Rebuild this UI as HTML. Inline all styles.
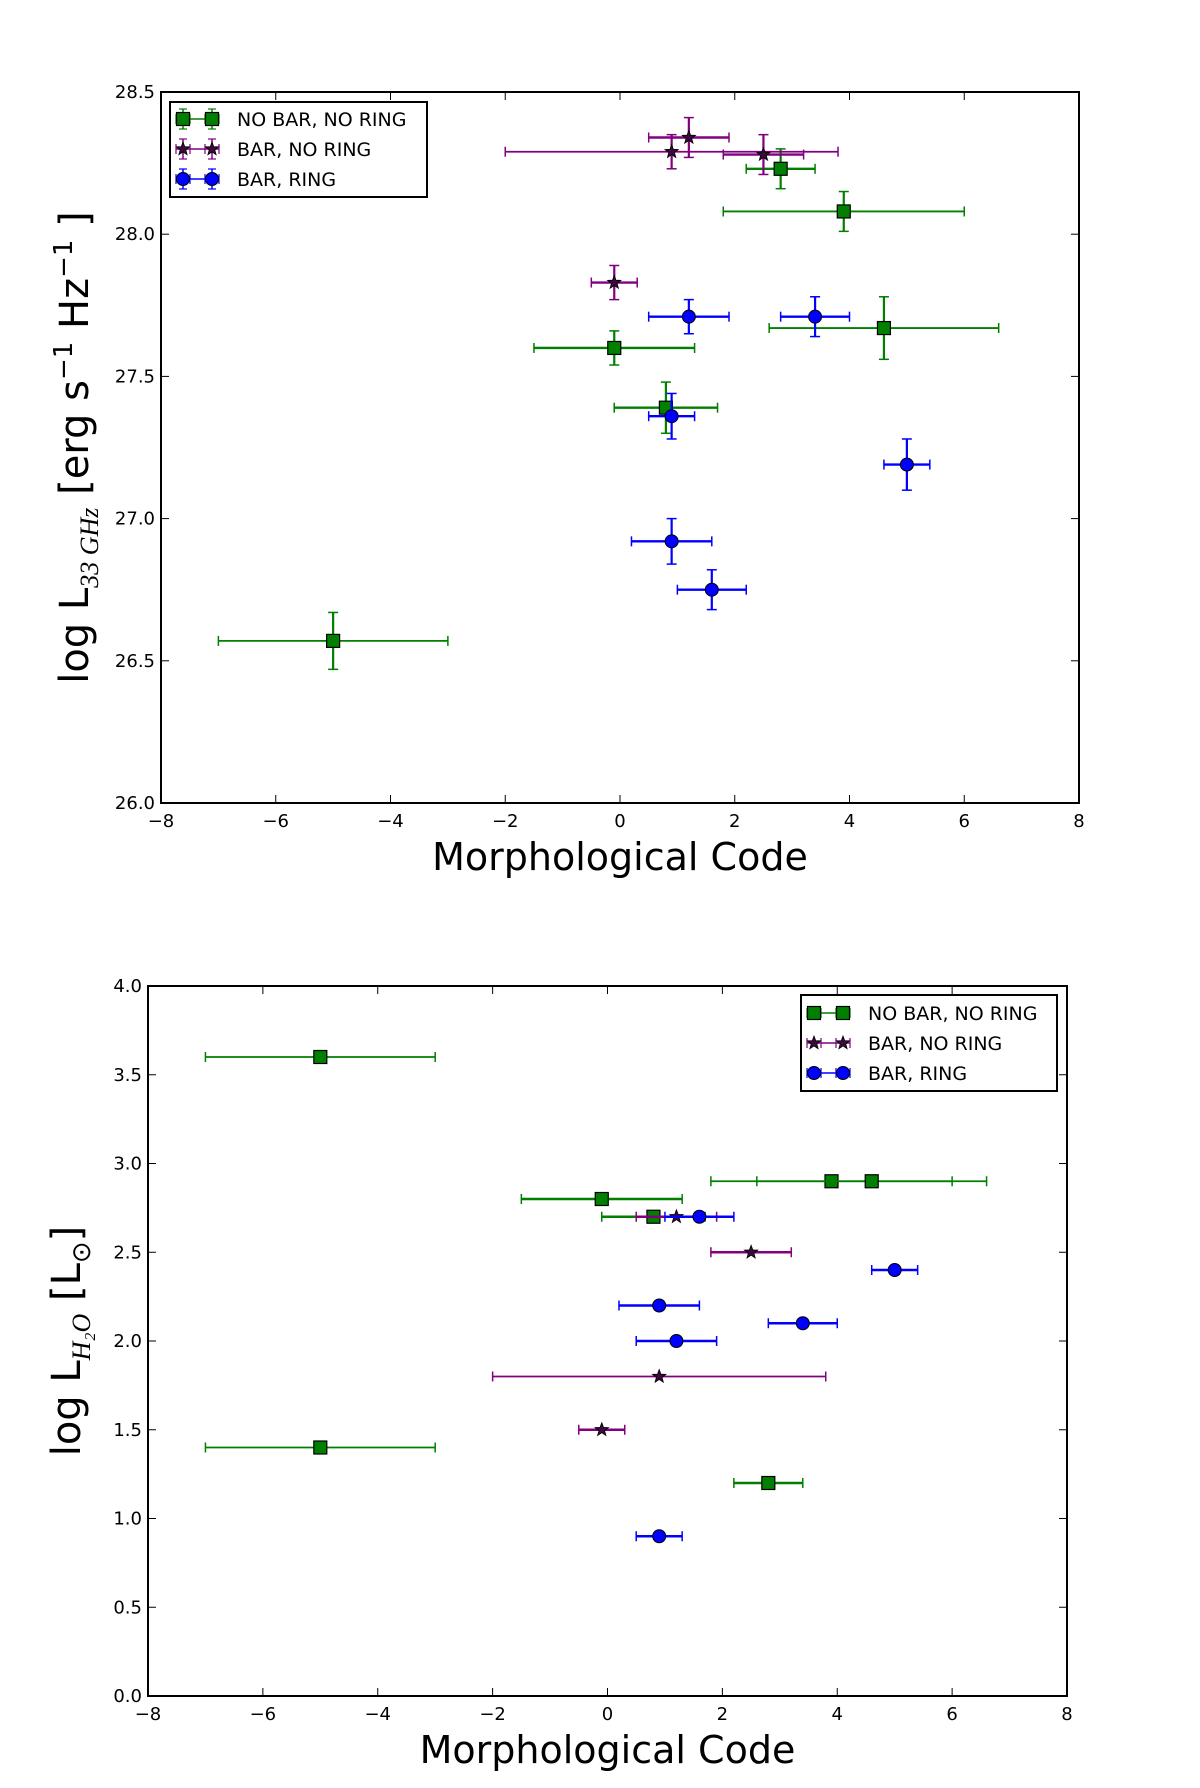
<!DOCTYPE html>
<html><head><meta charset="utf-8">
<style>
body{margin:0;background:#fff;}
svg{display:block;font-family:"DejaVu Sans","Liberation Sans",sans-serif;}
</style></head>
<body>
<svg id="fig" width="1200" height="1788" viewBox="0 0 1200 1788" xmlns="http://www.w3.org/2000/svg">
<rect width="1200" height="1788" fill="#fff"/>
</svg>
<script>
// ---- Top chart data (log L_33GHz) ----
const topGreenX=[-5,-0.1,0.8,2.8,3.9,4.6];
const topGreenY=[26.57,27.6,27.39,28.23,28.08,27.67];
const topGreenXlo=[-7,-1.5,-0.1,2.2,1.8,2.6];
const topGreenXhi=[-3,1.3,1.7,3.4,6.0,6.6];
const topGreenYerr=[0.1,0.06,0.09,0.07,0.07,0.11];
const topPurpleX=[0.9,1.2,2.5,-0.1];
const topPurpleY=[28.29,28.34,28.28,27.83];
const topPurpleXlo=[-2,0.5,1.8,-0.5];
const topPurpleXhi=[3.8,1.9,3.2,0.3];
const topPurpleYerr=[0.06,0.07,0.07,0.06];
const topBlueX=[1.2,3.4,0.9,5.0,0.9,1.6];
const topBlueY=[27.71,27.71,27.36,27.19,26.92,26.75];
const topBlueXlo=[0.5,2.8,0.5,4.6,0.2,1.0];
const topBlueXhi=[1.9,4.0,1.3,5.4,1.6,2.2];
const topBlueYerr=[0.06,0.07,0.08,0.09,0.08,0.07];
const topYTicks=["26.0","26.5","27.0","27.5","28.0","28.5"];
// ---- Bottom chart data (log L_H2O) ----
const botGreenX=[-5,3.9,4.6,-0.1,0.8,-5,2.8];
const botGreenY=[3.6,2.9,2.9,2.8,2.7,1.4,1.2];
const botGreenXlo=[-7,1.8,2.6,-1.5,-0.1,-7,2.2];
const botGreenXhi=[-3,6.0,6.6,1.3,1.7,-3,3.4];
const botPurpleX=[1.2,2.5,0.9,-0.1];
const botPurpleY=[2.7,2.5,1.8,1.5];
const botPurpleXlo=[0.5,1.8,-2,-0.5];
const botPurpleXhi=[1.9,3.2,3.8,0.3];
const botBlueX=[1.6,5.0,0.9,3.4,1.2,0.9];
const botBlueY=[2.7,2.4,2.2,2.1,2.0,0.9];
const botBlueXlo=[1.0,4.6,0.2,2.8,0.5,0.5];
const botBlueXhi=[2.2,5.4,1.6,4.0,1.9,1.3];
const botYTicks=["0.0","0.5","1.0","1.5","2.0","2.5","3.0","3.5","4.0"];
const xTicks=["\u22128","\u22126","\u22124","\u22122","0","2","4","6","8"];

const NS="http://www.w3.org/2000/svg";
const fig=document.getElementById('fig');
function mk(tag,attrs,parent){const e=document.createElementNS(NS,tag);for(const k in attrs)e.setAttribute(k,attrs[k]);(parent||fig).appendChild(e);return e;}
const GREEN="#007f00",PURPLE="#800080",BLUE="#0000ff";

function starPath(cx,cy,r){let d="";for(let i=0;i<10;i++){const a=-Math.PI/2+i*Math.PI/5;const rr=i%2?r*0.42:r;d+=(i?"L":"M")+(cx+rr*Math.cos(a)).toFixed(1)+","+(cy+rr*Math.sin(a)).toFixed(1);}return d+"Z";}

function marker(g,type,cx,cy,color){
  let m;
  if(type==="square"){m=mk('rect',{x:cx-6.5,y:cy-6.5,width:13,height:13,fill:color,stroke:"#000","stroke-width":1.2},g);}
  else if(type==="circle"){m=mk('circle',{cx:cx,cy:cy,r:6.5,fill:color,stroke:"#000","stroke-width":1},g);}
  else {m=mk('path',{d:starPath(cx,cy,7),fill:"#3a0a3a",stroke:"#000","stroke-width":0.8},g);}
  return m;
}

function chart(cfg){
  const {L,T,R,B,ymin,ymax,yTicks,name}=cfg;
  const sx=v=>L+(v+8)/16*(R-L);
  const sy=v=>B-(v-ymin)/(ymax-ymin)*(B-T);
  const g=mk('g',{});
  
  
  const plot=mk('g',{},g);
  
  
  // series
  cfg.series.forEach(s=>{
    const sg=mk('g',{},plot);
    
    
    s.x.forEach((xv,i)=>{
      const cx=sx(xv),cy=sy(s.y[i]);
      const pg=mk('g',{},sg);
      
      
      const x1=sx(s.xlo[i]),x2=sx(s.xhi[i]);
      const w=(s.xhi[i]-s.xlo[i])>3?1.8:2.4;
      mk('line',{x1:x1,y1:cy,x2:x2,y2:cy,stroke:s.color,"stroke-width":w},pg);
      mk('line',{x1:x1,y1:cy-5,x2:x1,y2:cy+5,stroke:s.color,"stroke-width":1.5},pg);
      mk('line',{x1:x2,y1:cy-5,x2:x2,y2:cy+5,stroke:s.color,"stroke-width":1.5},pg);
      if(s.yerr){
        const y1=sy(s.y[i]-s.yerr[i]),y2=sy(s.y[i]+s.yerr[i]);
        mk('line',{x1:cx,y1:y1,x2:cx,y2:y2,stroke:s.color,"stroke-width":2.2},pg);
        mk('line',{x1:cx-5,y1:y1,x2:cx+5,y2:y1,stroke:s.color,"stroke-width":1.5},pg);
        mk('line',{x1:cx-5,y1:y2,x2:cx+5,y2:y2,stroke:s.color,"stroke-width":1.5},pg);
      }
      marker(pg,s.type,cx,cy,s.color);
    });
  });
  // frame
  const fr=mk('rect',{x:L,y:T,width:R-L,height:B-T,fill:"none",stroke:"#000","stroke-width":2},g);
  
  
  // x ticks
  const xa=mk('g',{},g);
  
  
  xTicks.forEach((t,i)=>{
    const x=sx(-8+2*i);
    mk('line',{x1:x,y1:B,x2:x,y2:B-8,stroke:"#000","stroke-width":1},xa);
    mk('line',{x1:x,y1:T,x2:x,y2:T+8,stroke:"#000","stroke-width":1},xa);
    const tx=mk('text',{x:x,y:B+24,"font-size":18,"text-anchor":"middle"},xa);
    tx.textContent=t;
    
    
  });
  const ya=mk('g',{},g);
  
  
  yTicks.forEach(t=>{
    const y=sy(parseFloat(t));
    mk('line',{x1:L,y1:y,x2:L+8,y2:y,stroke:"#000","stroke-width":1},ya);
    mk('line',{x1:R,y1:y,x2:R-8,y2:y,stroke:"#000","stroke-width":1},ya);
    const tx=mk('text',{x:L-6,y:y+6,"font-size":18,"text-anchor":"end"},ya);
    tx.textContent=t;
    
    
  });
  // x title
  const xt=mk('text',{x:(L+R)/2,y:cfg.xTitleY,"font-size":38,"text-anchor":"middle"},g);
  xt.textContent="Morphological Code";
  
  
  // y title
  const yt=mk('text',{x:0,y:0,"font-size":40,"text-anchor":"middle",transform:`translate(${cfg.yTitleX},${(T+B)/2}) rotate(-90)`},g);
  yt.innerHTML=cfg.yTitle;
  
  
  // legend
  const lg=mk('g',{},g);
  
  
  const lb=cfg.legend;
  mk('rect',{x:lb.x,y:lb.y,width:lb.w,height:lb.h,fill:"#fff",stroke:"#000","stroke-width":2},lg);
  cfg.series.forEach((s,i)=>{
    const ey=lb.row0+i*30;
    const le=mk('g',{},lg);
    
    
    const mx1=lb.x+13,mx2=lb.x+42;
    mk('line',{x1:mx1-7,y1:ey,x2:mx2+7,y2:ey,stroke:s.color,"stroke-width":1.5},le);
    [mx1,mx2].forEach(mx=>{
      mk('line',{x1:mx-7,y1:ey-5,x2:mx-7,y2:ey+5,stroke:s.color,"stroke-width":1.2},le);
      mk('line',{x1:mx+7,y1:ey-5,x2:mx+7,y2:ey+5,stroke:s.color,"stroke-width":1.2},le);
      if(s.yerr){mk('line',{x1:mx,y1:ey-10,x2:mx,y2:ey+10,stroke:s.color,"stroke-width":1.5},le);
        mk('line',{x1:mx-4,y1:ey-10,x2:mx+4,y2:ey-10,stroke:s.color,"stroke-width":1.2},le);
        mk('line',{x1:mx-4,y1:ey+10,x2:mx+4,y2:ey+10,stroke:s.color,"stroke-width":1.2},le);}
      marker(le,s.type,mx,ey,s.color);
    });
    const tx=mk('text',{x:lb.x+67,y:ey+7,"font-size":19},le);
    tx.textContent=s.label;
  });
}

chart({name:'luminosity-33ghz-chart',L:161,T:92,R:1079,B:803,ymin:26,ymax:28.5,yTicks:topYTicks,
  xTitleY:870,yTitleX:88,
  yTitle:'log L<tspan font-size="26" dy="10" font-style="italic" font-family="Liberation Serif, serif">33 GHz</tspan><tspan dy="-10"> [erg s</tspan><tspan font-size="26" dy="-16">−1</tspan><tspan dy="16">  Hz</tspan><tspan font-size="26" dy="-16">−1</tspan><tspan dy="16"> ]</tspan>',
  legend:{x:170,y:102,w:257,h:95,row0:119},
  series:[
   {name:'no-bar-no-ring-series',label:'NO BAR, NO RING',type:'square',color:GREEN,x:topGreenX,y:topGreenY,xlo:topGreenXlo,xhi:topGreenXhi,yerr:topGreenYerr},
   {name:'bar-no-ring-series',label:'BAR, NO RING',type:'star',color:PURPLE,x:topPurpleX,y:topPurpleY,xlo:topPurpleXlo,xhi:topPurpleXhi,yerr:topPurpleYerr},
   {name:'bar-ring-series',label:'BAR, RING',type:'circle',color:BLUE,x:topBlueX,y:topBlueY,xlo:topBlueXlo,xhi:topBlueXhi,yerr:topBlueYerr}
  ]});

chart({name:'luminosity-h2o-chart',L:148,T:986,R:1067,B:1696,ymin:0,ymax:4,yTicks:botYTicks,
  xTitleY:1763,yTitleX:80,
  yTitle:'log L<tspan font-size="26" dy="10" font-style="italic" font-family="Liberation Serif, serif">H₂O</tspan><tspan dy="-10"> [L</tspan><tspan font-size="26" dy="10">⊙</tspan><tspan dy="-10">]</tspan>',
  legend:{x:801,y:995,w:256,h:96,row0:1013},
  series:[
   {name:'no-bar-no-ring-series',label:'NO BAR, NO RING',type:'square',color:GREEN,x:botGreenX,y:botGreenY,xlo:botGreenXlo,xhi:botGreenXhi},
   {name:'bar-no-ring-series',label:'BAR, NO RING',type:'star',color:PURPLE,x:botPurpleX,y:botPurpleY,xlo:botPurpleXlo,xhi:botPurpleXhi},
   {name:'bar-ring-series',label:'BAR, RING',type:'circle',color:BLUE,x:botBlueX,y:botBlueY,xlo:botBlueXlo,xhi:botBlueXhi}
  ]});
</script>
</body></html>
